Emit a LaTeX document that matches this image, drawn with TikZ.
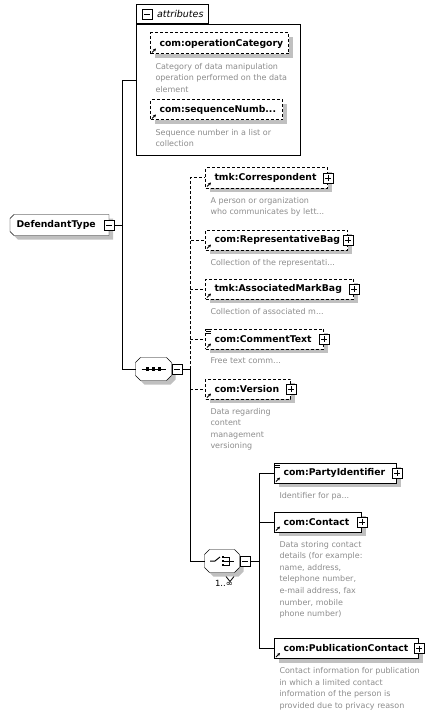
\documentclass[tikz,border=0pt]{standalone}
\usepackage{fontspec}
\setmainfont{DejaVu Sans}
\usepackage{tikz}
\usetikzlibrary{positioning, arrows.meta, backgrounds, shadows}

\definecolor{descgray}{HTML}{8C8C8C}
\definecolor{shadowgray}{HTML}{C0C0C0}
\hyphenpenalty=10000
\exhyphenpenalty=10000

\tikzset{
    ombre/.style={drop shadow={shadow xshift=4pt, shadow yshift=-4pt, fill=shadowgray, opacity=1}},
    elem/.style={draw, fill=white, anchor=west, minimum height=20pt, inner xsep=9pt, inner ysep=0pt, align=left, font=\bfseries\fontsize{9.3}{11}\selectfont, ombre},
    optionnel/.style={dash pattern=on 3pt off 2pt},
    desc/.style={anchor=north west, inner sep=0pt, align=left, text=descgray, font=\fontsize{8}{11.6}\selectfont},
    plusbox/.style={draw, fill=white, minimum size=10pt, inner sep=0pt, line width=0.8pt,
        path picture={\draw[line width=0.8pt] ([xshift=2pt]path picture bounding box.west) -- ([xshift=-2pt]path picture bounding box.east)
            ([yshift=-2pt]path picture bounding box.north) -- ([yshift=2pt]path picture bounding box.south);}},
    minusbox/.style={draw, fill=white, minimum size=10pt, inner sep=0pt, line width=0.8pt,
        path picture={\draw[line width=0.8pt] ([xshift=2pt]path picture bounding box.west) -- ([xshift=-2pt]path picture bounding box.east);}},
    refarrow/.style={-{Stealth[length=3pt, width=3pt]}, line width=0.9pt},
    compositeur/.style={minimum width=35pt, minimum height=22pt, inner sep=0pt},
    racine/.style={anchor=west, minimum height=20pt, inner xsep=6pt, inner ysep=0pt, align=left, font=\bfseries\fontsize{9.3}{11}\selectfont},
    % contour octogonal (noeud, decalage)
    octo/.style 2 args={insert path={([xshift=5pt+#2, yshift=-#2]#1.north west) -- ([xshift=-5pt+#2, yshift=-#2]#1.north east)
        -- ([xshift=#2, yshift=-5pt-#2]#1.north east) -- ([xshift=#2, yshift=5pt-#2]#1.south east)
        -- ([xshift=-5pt+#2, yshift=-#2]#1.south east) -- ([xshift=5pt+#2, yshift=-#2]#1.south west)
        -- ([xshift=#2, yshift=5pt-#2]#1.south west) -- ([xshift=#2, yshift=-5pt-#2]#1.north west) -- cycle}},
    pan/.style 2 args={insert path={([xshift=4pt+#2, yshift=-#2]#1.north west) -- ([xshift=#2, yshift=-#2]#1.north east)
        -- ([xshift=#2, yshift=-#2]#1.south east) -- ([xshift=4pt+#2, yshift=-#2]#1.south west)
        -- ([xshift=#2, yshift=4pt-#2]#1.south west) -- ([xshift=#2, yshift=-4pt-#2]#1.north west) -- cycle}}
}

\begin{document}
\begin{tikzpicture}[x=1pt, y=-1pt, line width=1pt]
    \useasboundingbox (0,0) rectangle (433,714);

    % Type racine
    \node[racine, text width=86pt] (def) at (10,225) {DefendantType};
    \begin{scope}[on background layer]
        \fill[shadowgray, pan={def}{4pt}];
        \draw[fill=white, pan={def}{0pt}];
    \end{scope}
    \node[minusbox] (def-m) at (def.east) {};

    % Attributs
    \node[draw, fill=white, anchor=north west, minimum width=164pt, minimum height=131pt] (attr) at (136,24) {};
    \node[draw, fill=white, anchor=south west, minimum height=19pt, text width=62pt, inner xsep=5pt, inner ysep=0pt, align=right, font=\itshape\fontsize{9.5}{11}\selectfont] (attrtab) at (attr.north west) {attributes};
    \node[minusbox] (attr-m) at ([xshift=11pt]attrtab.west) {};

    \node[elem, optionnel, text width=120pt, minimum height=21pt] (oc) at (150,43.5) {com:operationCategory};
    \node[desc] (oc-d) at ([xshift=5pt, yshift=-8pt]oc.south west) {Category of data manipulation\\operation performed on the data\\element};
    \node[elem, optionnel, text width=114pt] (sn) at (150,110) {com:sequenceNumb...};
    \node[desc] (sn-d) at ([xshift=5pt, yshift=-8pt]sn.south west) {Sequence number in a list or\\collection};

    % Sequence
    \node[compositeur] (seq) at (153.5,369) {};
    \begin{scope}[on background layer]
        \fill[shadowgray, octo={seq}{4pt}];
        \draw[fill=white, octo={seq}{0pt}];
    \end{scope}
    \node[minusbox, anchor=west] (seq-m) at (seq.east) {};
    \draw ([xshift=-12pt]seq.center) -- ([xshift=12pt]seq.center);
    \foreach \dx in {-6,0,6}
        \fill ([xshift=\dx pt]seq.center) +(-1.6pt,-1.6pt) rectangle +(1.6pt,1.6pt);

    \node[elem, optionnel, text width=104pt] (corr) at (205,178) {tmk:Correspondent};
    \node[desc] (corr-d) at ([xshift=5pt, yshift=-8pt]corr.south west) {A person or organization\\who communicates by lett...};
    \node[elem, optionnel, text width=124pt] (rep) at (205,240) {com:RepresentativeBag};
    \node[desc] (rep-d) at ([xshift=5pt, yshift=-8pt]rep.south west) {Collection of the representati...};
    \node[elem, optionnel, text width=130pt] (amb) at (205,289) {tmk:AssociatedMarkBag};
    \node[desc] (amb-d) at ([xshift=5pt, yshift=-8pt]amb.south west) {Collection of associated m...};
    \node[elem, optionnel, text width=100pt] (ct) at (205,339) {com:CommentText};
    \node[desc] (ct-d) at ([xshift=5pt, yshift=-8pt]ct.south west) {Free text comm...};
    \node[elem, optionnel, text width=67pt] (ver) at (205,389) {com:Version};
    \node[desc] (ver-d) at ([xshift=5pt, yshift=-8pt]ver.south west) {Data regarding\\content\\management\\versioning};

    % Choice
    \node[compositeur, minimum width=34pt] (cho) at (222,561) {};
    \begin{scope}[on background layer]
        \fill[shadowgray, octo={cho}{4pt}];
        \draw[fill=white, octo={cho}{0pt}];
    \end{scope}
    \node[minusbox, anchor=west] (cho-m) at (cho.east) {};
    \draw ([xshift=-12pt]cho.center) -- ([xshift=-7pt]cho.center) -- ([xshift=-2pt, yshift=4pt]cho.center);
    \foreach \dy in {-4,0,4}
        \fill ([xshift=1pt, yshift=\dy pt]cho.center) +(-1.4pt,-1.4pt) rectangle +(1.4pt,1.4pt);
    \draw ([xshift=2pt, yshift=4pt]cho.center) -| ([xshift=7pt, yshift=-4pt]cho.center) -- ([xshift=2pt, yshift=-4pt]cho.center);
    \draw ([xshift=2pt]cho.center) -- ([xshift=12pt]cho.center);
    \draw[fill=white, line width=0.8pt] ([xshift=4pt, yshift=-4pt]cho.south) -- ++(4pt,-5pt) -- ++(4pt,5pt);
    \node[font=\fontsize{8.5}{10}\selectfont] (cho-n) at (224,583) {1..∞};

    \node[elem, text width=104pt] (pid) at (274,473) {com:PartyIdentifier};
    \node[desc] (pid-d) at ([xshift=5pt, yshift=-8pt]pid.south west) {Identifier for pa...};
    \node[elem, text width=69pt] (cont) at (274,522) {com:Contact};
    \node[desc] (cont-d) at ([xshift=5pt, yshift=-8pt]cont.south west) {Data storing contact\\details (for example:\\name, address,\\telephone number,\\e-mail address, fax\\number, mobile\\phone number)};
    \node[elem, text width=126pt] (pub) at (274,648.5) {com:PublicationContact};
    \node[desc] (pub-d) at ([xshift=5pt, yshift=-8pt]pub.south west) {Contact information for publication\\in which a limited contact\\information of the person is\\provided due to privacy reason};

    % Boutons et icones
    \foreach \n in {corr,rep,amb,ct,ver,pid,cont,pub}
        \node[plusbox] (\n-p) at (\n.east) {};
    \foreach \n in {oc,sn,corr,rep,amb,ct,ver,pid,cont,pub}
        \draw[refarrow] ([xshift=2pt, yshift=2pt]\n.south west) -- ++(4pt,4pt);
    \foreach \n in {ct,pid}
        \foreach \k in {1,3,5}
            \draw[line width=0.7pt] ([xshift=1pt, yshift=-\k pt]\n.north west) -- ++(5pt,0pt);

    % Liens
    \coordinate (bus) at (122,225);
    \draw (def-m.east) -- (bus);
    \draw (bus) |- ([yshift=9.5pt]attr.west);
    \draw (bus) |- (seq.west);

    \coordinate (sbus) at (190,369);
    \draw (seq-m.east) -- (sbus);
    \draw[optionnel] (sbus) |- (corr.west);
    \draw[optionnel] (sbus) |- (rep.west);
    \draw[optionnel] (sbus) |- (amb.west);
    \draw[optionnel] (sbus) |- (ct.west);
    \draw[optionnel] (sbus) |- (ver.west);
    \draw (sbus) |- (cho.west);

    \coordinate (cbus) at (259,561);
    \draw (cho-m.east) -- (cbus);
    \draw (cbus) |- (pid.west);
    \draw (cbus) |- (cont.west);
    \draw (cbus) |- (pub.west);
\end{tikzpicture}
\end{document}
